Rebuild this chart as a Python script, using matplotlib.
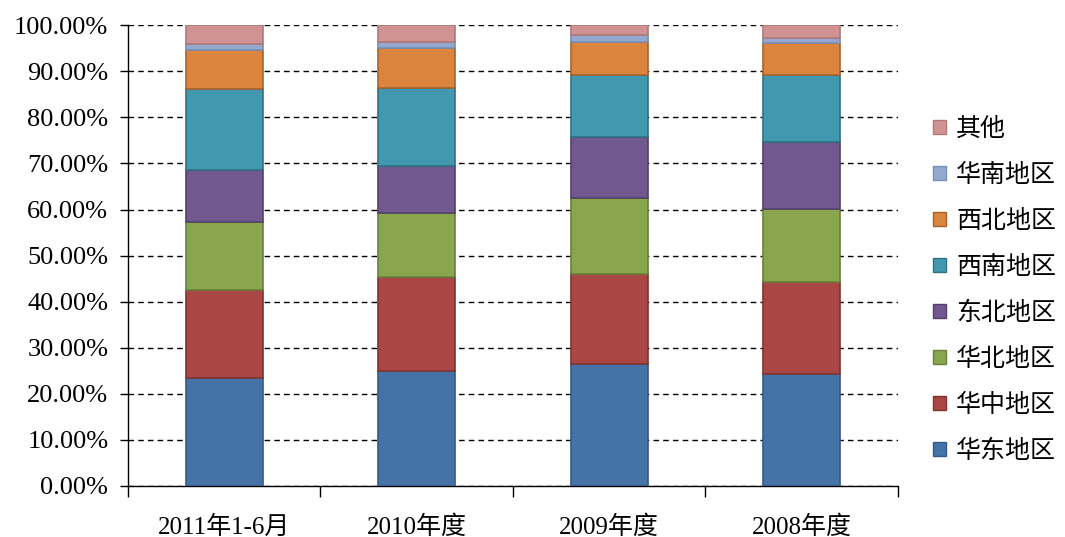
import numpy as np
import matplotlib.pyplot as plt
from matplotlib.ticker import FuncFormatter, MultipleLocator
from matplotlib.patches import Patch

plt.rcParams['font.family'] = ['Liberation Serif', 'Noto Sans CJK SC']

periods = ['2011年1-6月', '2010年度', '2009年度', '2008年度']
regions = ['华东地区', '华中地区', '华北地区', '东北地区', '西南地区', '西北地区', '华南地区', '其他']

# shares in %, one list per region, in period order
east = [23.4, 25.0, 26.4, 24.4]
central = [19.1, 20.3, 19.7, 19.8]
north = [14.8, 14.0, 16.4, 16.0]
northeast = [11.3, 10.2, 13.3, 14.4]
southwest = [17.5, 16.8, 13.4, 14.6]
northwest = [8.5, 8.7, 7.2, 7.0]
south = [1.3, 1.3, 1.4, 1.1]
other = [4.1, 3.7, 2.2, 2.7]

series = [east, central, north, northeast, southwest, northwest, south, other]
colors = ['#4572A7', '#AA4643', '#89A54E', '#71588F', '#4198AF', '#DB843D', '#93A9CF', '#D19392']
edges = ['#36598a', '#7f3331', '#6a803b', '#54416b', '#2f7284', '#a8632c', '#7a8fb5', '#b07979']


def main():
    fig = plt.figure(figsize=(10.65, 5.37), dpi=100)
    ax = fig.add_axes([0.120, 0.095, 0.723, 0.858])

    x = np.arange(len(periods))
    bottom = np.zeros(len(periods))
    for vals, c, ec in zip(series, colors, edges):
        ax.bar(x, vals, 0.4, bottom=bottom, color=c, edgecolor=ec, linewidth=1.2, zorder=3)
        bottom += np.array(vals)

    ax.set_xlim(-0.5, len(periods) - 0.5)
    ax.set_ylim(0, 100)
    ax.yaxis.set_major_locator(MultipleLocator(10))
    ax.yaxis.set_major_formatter(FuncFormatter(lambda v, p: f'{v:.2f}%'))
    ax.grid(axis='y', color='black', linestyle=(0, (4, 3)), linewidth=1.0, zorder=1)

    ax.set_xticks(x, periods)
    ax.set_xticks(np.arange(-0.5, len(periods), 1.0), minor=True)
    ax.tick_params(axis='x', which='major', length=0, pad=21, labelsize=18)
    ax.tick_params(axis='x', which='minor', length=8, width=1, direction='out')
    ax.tick_params(axis='y', length=6, width=1, direction='out', pad=8, labelsize=19)

    for s in ['top', 'right']:
        ax.spines[s].set_visible(False)
    ax.spines['left'].set_linewidth(1)
    ax.spines['bottom'].set_linewidth(1)

    handles = [Patch(facecolor=c, edgecolor=ec, label=r) for c, ec, r in zip(colors, edges, regions)]
    fig.legend(handles[::-1], regions[::-1], loc='center left', bbox_to_anchor=(0.855, 0.46),
               frameon=False, handlelength=0.52, handleheight=0.52,
               handletextpad=0.4, labelspacing=0.8, prop={'family': ['Noto Sans CJK SC'], 'size': 18})

    fig.savefig('out.png', dpi=100)


if __name__ == '__main__':
    main()
